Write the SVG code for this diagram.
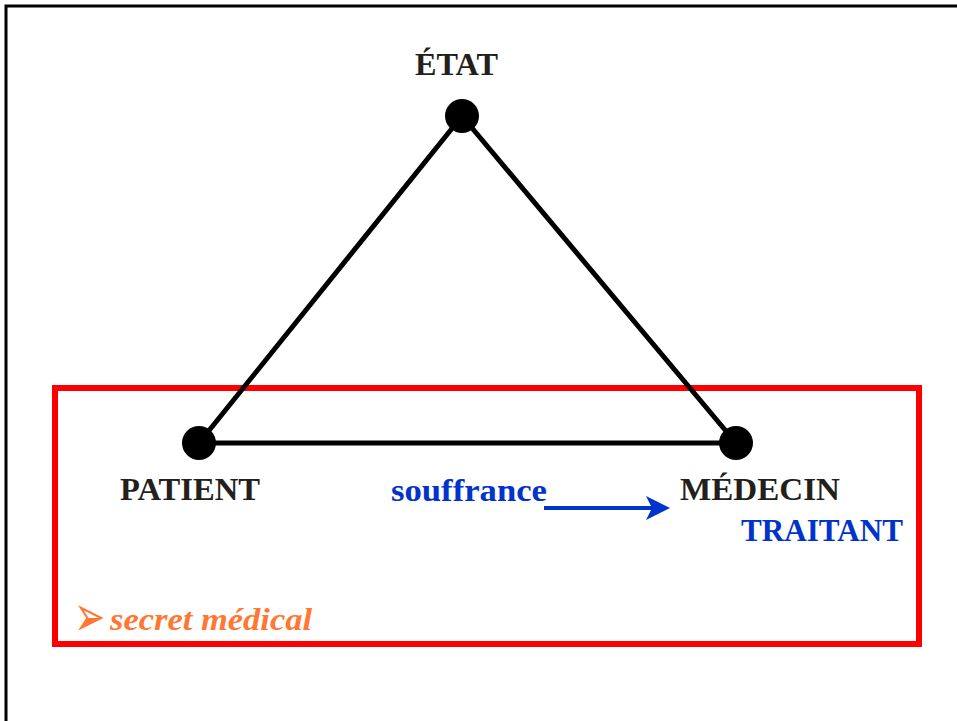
<svg xmlns="http://www.w3.org/2000/svg" width="957" height="721" viewBox="0 0 957 721">
<style>
.lbl{font-family:"Liberation Serif","Times New Roman",serif;font-weight:bold;font-size:32px}
.blk{fill:#231f1a}
.blu{fill:#0033cc}
.edge{stroke:#000;stroke-width:5;fill:none;stroke-linecap:round}
.dot{fill:#000}
</style>
<defs>
<marker id="ah" markerWidth="6" markerHeight="6" refX="5" refY="3" orient="auto" markerUnits="strokeWidth">
<path d="M0,0 L6,3 L0,6 L1.5,3 Z" fill="#0033cc"/>
</marker>
</defs>
<rect x="0" y="0" width="957" height="721" fill="#fff"/>
<path d="M6,721 L6,6 L957,6" stroke="#000" stroke-width="3" fill="none"/>
<rect id="secret-box" x="55" y="388" width="864" height="256" fill="none" stroke="#ff0000" stroke-width="6"/>
<g id="connectors">
<line class="edge" x1="462" y1="116" x2="199" y2="443"/>
<line class="edge" x1="462" y1="116" x2="736" y2="443"/>
<line class="edge" x1="199" y1="443" x2="736" y2="443"/>
<line x1="544" y1="508" x2="666" y2="508" stroke="#0033cc" stroke-width="4" marker-end="url(#ah)"/>
</g>
<g id="etat">
<circle class="dot" cx="462" cy="116" r="17"/>
<text class="lbl blk" x="415" y="75" textLength="83" lengthAdjust="spacingAndGlyphs">ÉTAT</text>
</g>
<g id="patient">
<circle class="dot" cx="199" cy="443" r="17"/>
<text class="lbl blk" x="120" y="500" textLength="140" lengthAdjust="spacingAndGlyphs">PATIENT</text>
</g>
<g id="medecin">
<circle class="dot" cx="736" cy="443" r="17"/>
<text class="lbl blk" x="680" y="500" textLength="160" lengthAdjust="spacingAndGlyphs">MÉDECIN</text>
<text class="lbl blu" x="741" y="541" textLength="162" lengthAdjust="spacingAndGlyphs">TRAITANT</text>
</g>
<g id="souffrance">
<text class="lbl blu" x="391" y="501" textLength="156" lengthAdjust="spacingAndGlyphs">souffrance</text>
</g>
<g id="secret">
<text transform="translate(74,636) scale(1.1,1.7)" font-family="'DejaVu Sans',sans-serif" font-size="34" fill="#ff7733">➢</text>
<text x="110" y="630" font-family="'Liberation Serif','Times New Roman',serif" font-weight="bold" font-style="italic" font-size="32" fill="#ff7733" textLength="202" lengthAdjust="spacingAndGlyphs">secret médical</text>
</g>
</svg>
